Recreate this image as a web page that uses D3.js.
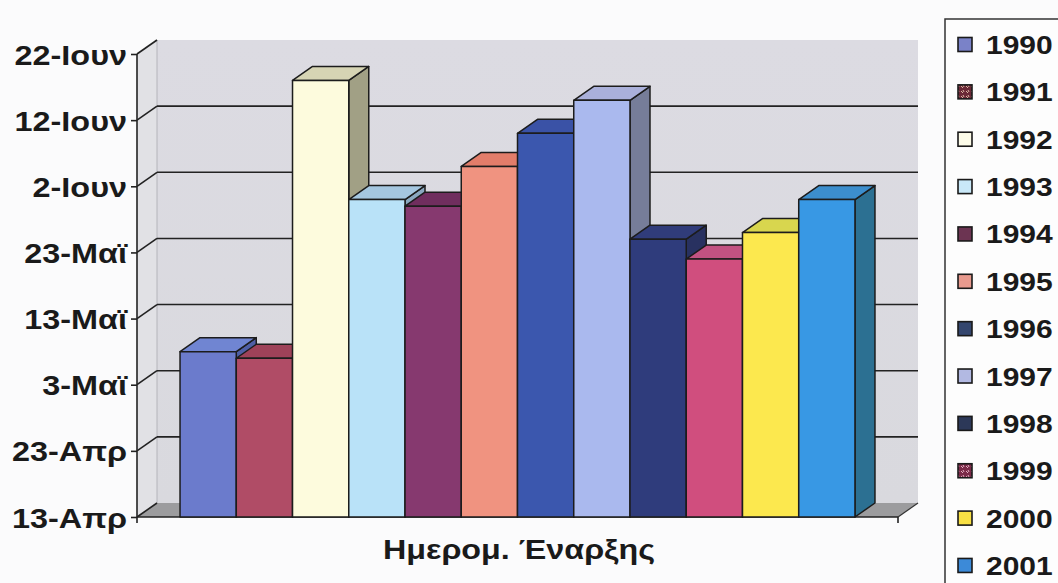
<!DOCTYPE html>
<html>
<head>
<meta charset="utf-8">
<script src="https://cdn.jsdelivr.net/npm/d3@7"></script>
<style>
  html, body { margin: 0; padding: 0; background: #fbfbfc; }
  svg { display: block; }
  text { font-family: "Liberation Sans", Arial, sans-serif; fill: #1a1a1a; }
</style>
</head>
<body>
<svg id="chart" width="1058" height="583"></svg>
<script>
// Season start date for each year (month-day)
const years = ["1990","1991","1992","1993","1994","1995","1996","1997","1998","1999","2000","2001"];
const startDates = ["05-08","05-07","06-18","05-31","05-30","06-05","06-10","06-15","05-25","05-22","05-26","05-31"];

// Value axis: first tick, tick spacing in days, tick count
const axisStart = "04-13";
const tickStepDays = 10;
const tickCount = 8;
const shortMonths = ["Ιαν","Φεβ","Μαρ","Απρ","Μαϊ","Ιουν","Ιουλ","Αυγ","Σεπ","Οκτ","Νοε","Δεκ"];

const axisTitle = "Ημερομ. Έναρξης";

// Bar faces: front, top, side
const frontColors = ["#6b7bcc","#b04c66","#fdfbdd","#b9e2f8","#86396f","#f09380","#3b57ae","#aab9ee","#2f3c7c","#d04e7e","#fce84e","#3898e4"];
const topColors   = ["#7085d2","#9e4259","#d6d4b4","#a5c7e0","#702e5e","#e27d6a","#3a52a6","#aab0da","#303c7a","#c25282","#d8d64e","#3c8ecd"];
const sideColors  = ["#4f5fa6","#80314a","#a1a085","#8aa8c0","#5a2448","#b86b5b","#2c4080","#767d99","#283160","#9a3a60","#b0a842","#2c7092"];
const legendColors = ["#7a82c8","#6e2a3a","#fcfbe8","#c9e8f8","#6c3452","#e89a8e","#34466e","#b2b9e2","#2c3858","#7c2c4a","#f8e044","#3c8ad8"];

const svg = d3.select("#chart");

// Reference year only for placing month-day values on a time scale
const refYear = 2001;
const parseMD = d3.utcParse("%Y-%m-%d");
const toDate = md => parseMD(refYear + "-" + md);

const locale = d3.timeFormatLocale({
  dateTime: "%d/%m/%Y %H:%M", date: "%d/%m/%Y", time: "%H:%M:%S",
  periods: ["πμ","μμ"],
  days: ["Κυριακή","Δευτέρα","Τρίτη","Τετάρτη","Πέμπτη","Παρασκευή","Σάββατο"],
  shortDays: ["Κυρ","Δευ","Τρι","Τετ","Πεμ","Παρ","Σαβ"],
  months: ["Ιανουάριος","Φεβρουάριος","Μάρτιος","Απρίλιος","Μάιος","Ιούνιος","Ιούλιος","Αύγουστος","Σεπτέμβριος","Οκτώβριος","Νοέμβριος","Δεκέμβριος"],
  shortMonths: shortMonths
});
const fmt = locale.utcFormat("%-d-%b");

const t0 = toDate(axisStart);
const tickValues = d3.range(tickCount).map(i => d3.utcDay.offset(t0, i * tickStepDays));

// Front plane of the plot and depth offset of the 3D box
const X0 = 137, X1 = 898, YB = 517, YT = 54;
const DX = 20, DY = -14;

const y = d3.scaleUtc().domain([t0, tickValues[tickValues.length - 1]]).range([YB, YT]);
const x = d3.scaleBand().domain(years).range([X0, X1]).paddingInner(0).paddingOuter(0.765);

const defs = svg.append("defs");
const wallGrad = defs.append("linearGradient").attr("id", "wall").attr("x1", 0).attr("y1", 0).attr("x2", 0).attr("y2", 1);
wallGrad.append("stop").attr("offset", "0%").attr("stop-color", "#dcdbe2");
wallGrad.append("stop").attr("offset", "100%").attr("stop-color", "#d9d9de");

// Hatched swatches for two legend entries
function pattern(id, base, mark) {
  const p = defs.append("pattern").attr("id", id).attr("width", 5).attr("height", 5).attr("patternUnits", "userSpaceOnUse");
  p.append("rect").attr("width", 5).attr("height", 5).attr("fill", base);
  p.append("path").attr("d", "M1,1 L3,3 M3,0 L4,2").attr("stroke", mark).attr("stroke-width", 0.9);
}
pattern("pat1991", "#6a2836", "#e8c8b0");
pattern("pat1999", "#7a2a48", "#f0c0d0");

const g = svg.append("g");

// Walls and floor
g.append("rect").attr("x", X0 + DX).attr("y", YT + DY).attr("width", X1 - X0).attr("height", YB - YT)
  .attr("fill", "url(#wall)");
g.append("polygon")
  .attr("points", [[X0, YT], [X0 + DX, YT + DY], [X0 + DX, YB + DY], [X0, YB]].join(" "))
  .attr("fill", "#e1e1e5");
g.append("polygon")
  .attr("points", [[X0, YB], [X0 + DX, YB + DY], [X1 + DX, YB + DY], [X1, YB]].join(" "))
  .attr("fill", "#9c9c9e");
g.append("line").attr("x1", X0 + DX).attr("x2", X0 + DX).attr("y1", YT + DY).attr("y2", YB + DY)
  .attr("stroke", "#b4b4ba").attr("stroke-width", 1);

// Gridlines on the side and back walls
const grid = g.append("g").attr("stroke", "#222").attr("stroke-width", 1.6).attr("fill", "none");
tickValues.forEach((t, i) => {
  const yy = y(t);
  grid.append("line").attr("x1", X0).attr("y1", yy).attr("x2", X0 + DX).attr("y2", yy + DY);
  if (i > 0 && i < tickValues.length - 1) {
    grid.append("line").attr("x1", X0 + DX).attr("y1", yy + DY).attr("x2", X1 + DX).attr("y2", yy + DY);
  }
});

// Front baseline and corner tick
g.append("line").attr("x1", X0).attr("x2", X1).attr("y1", YB).attr("y2", YB).attr("stroke", "#222").attr("stroke-width", 1.6);
g.append("line").attr("x1", X1).attr("x2", X1 + DX).attr("y1", YB).attr("y2", YB + DY).attr("stroke", "#333").attr("stroke-width", 1.2);
g.append("line").attr("x1", X1).attr("x2", X1).attr("y1", YB).attr("y2", YB + 6).attr("stroke", "#222").attr("stroke-width", 1.6);

// 3D bars, painted left to right
const bw = x.bandwidth();
const bars = g.append("g").attr("stroke", "#1c1c1c").attr("stroke-width", 1.5).attr("stroke-linejoin", "round");
years.forEach((yr, i) => {
  const bx = x(yr), top = y(toDate(startDates[i]));
  const b = bars.append("g");
  b.append("polygon")
    .attr("points", [[bx + bw, top], [bx + bw + DX, top + DY], [bx + bw + DX, YB + DY], [bx + bw, YB]].join(" "))
    .attr("fill", sideColors[i]);
  b.append("polygon")
    .attr("points", [[bx, top], [bx + DX, top + DY], [bx + bw + DX, top + DY], [bx + bw, top]].join(" "))
    .attr("fill", topColors[i]);
  b.append("rect").attr("x", bx).attr("y", top).attr("width", bw).attr("height", YB - top)
    .attr("fill", frontColors[i]);
});

// Value axis
const axis = d3.axisLeft(y).tickValues(tickValues).tickFormat(fmt).tickSizeInner(6).tickSizeOuter(0).tickPadding(10);
const ax = svg.append("g").attr("transform", `translate(${X0},0)`).call(axis);
ax.select(".domain").remove();
ax.append("line").attr("x1", 0).attr("x2", 0).attr("y1", YT).attr("y2", YB + 6).attr("stroke", "#222").attr("stroke-width", 1.6);
ax.selectAll(".tick line").attr("stroke", "#222").attr("stroke-width", 1.6);
ax.selectAll(".tick text")
  .attr("x", null).attr("dy", null)
  .attr("transform", "translate(-10,10) scale(1.2,1)")
  .style("font-family", "'Liberation Sans', Arial, sans-serif")
  .style("font-size", "27px").style("font-weight", "bold").attr("fill", "#1a1a1a");

// Category axis title
svg.append("text").attr("x", 383).attr("y", 559)
  .attr("textLength", 272).attr("lengthAdjust", "spacingAndGlyphs")
  .style("font-size", "28px").style("font-weight", "bold").attr("fill", "#222")
  .text(axisTitle);

// Legend
const lg = svg.append("g");
lg.append("rect").attr("x", 945).attr("y", 19).attr("width", 130).attr("height", 580)
  .attr("fill", "#fdfdfd").attr("stroke", "#333").attr("stroke-width", 1.5);
years.forEach((yr, i) => {
  const cy = 45 + i * 47.36;
  const fill = yr === "1991" ? "url(#pat1991)" : yr === "1999" ? "url(#pat1999)" : legendColors[i];
  lg.append("rect").attr("x", 958).attr("y", cy - 7.5).attr("width", 14).attr("height", 14)
    .attr("fill", fill).attr("stroke", "#1a1a1a").attr("stroke-width", 1.6);
  lg.append("text").attr("transform", `translate(986,${cy + 9}) scale(1.2,1)`)
    .style("font-size", "25px").style("font-weight", "bold").attr("fill", "#1a1a1a")
    .text(yr);
});
</script>
</body>
</html>
